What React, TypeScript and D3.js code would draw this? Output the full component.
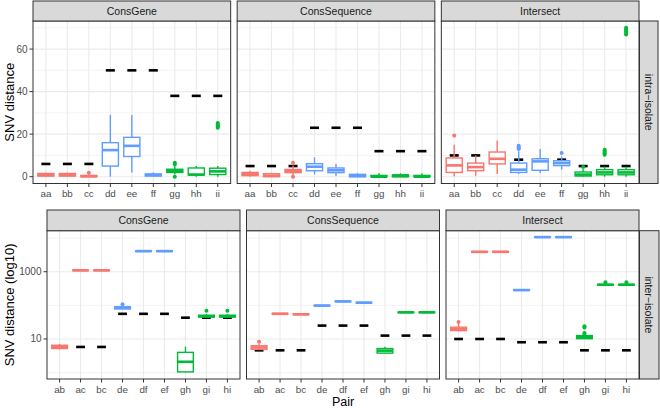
import React from 'react';
import * as d3 from 'd3';

// ---------- data ----------
const methods = ['ConsGene', 'ConsSequence', 'Intersect'];
const intraPairs = ['aa', 'bb', 'cc', 'dd', 'ee', 'ff', 'gg', 'hh', 'ii'];
const interPairs = ['ab', 'ac', 'bc', 'de', 'df', 'ef', 'gh', 'gi', 'hi'];
const pairGroup = [0, 0, 0, 1, 1, 1, 2, 2, 2];
const groupColors = ['#F8766D', '#619CFF', '#00BA38'];

// box stats: [lower whisker, q1, median, q3, upper whisker]
const intraGeneBoxes = [
  [0, 0.3, 0.8, 1.5, 2], [0, 0.3, 0.8, 1.5, 2], [0, 0, 0.2, 0.6, 1.2],
  [0, 5, 12.5, 16, 29], [2, 9.5, 14.5, 18.5, 29], [0, 0.3, 0.8, 1.3, 2],
  [1, 2, 2.8, 3.5, 5], [0, 0.8, 1, 4.1, 5], [0, 1, 2.5, 4, 5],
];
const intraGeneOutliers = [[], [], [1.8], [], [], [], [0, 5.8, 6.5], [], [23, 23.6, 24.2, 24.8, 25.3]];
const intraGeneRefs = [6, 6, 6, 50, 50, 50, 38, 38, 38];

const intraSeqBoxes = [
  [0, 0.5, 1.2, 2, 2.8], [0, 0, 0.5, 1.4, 1.9], [0.5, 1.9, 2.7, 3.4, 5.3],
  [1.1, 2.8, 4.7, 6.1, 9.1], [0.3, 1.9, 3, 4.1, 6], [0, 0, 0.3, 1.1, 1.6],
  [0, 0, 0, 0.6, 1.6], [0, 0, 0.3, 0.9, 1.6], [0, 0, 0, 0.6, 1.6],
];
const intraSeqOutliers = [[], [], [0, 6.5], [], [], [], [], [], []];
const intraSeqRefs = [5, 5, 5, 23, 23, 23, 12, 12, 12];

const intraIntBoxes = [
  [0.2, 2, 5.3, 8.8, 15], [0.5, 2.8, 4.5, 6.4, 10], [1.3, 6, 8.4, 11.6, 17],
  [1.3, 2, 3.3, 6.4, 11.9], [1.7, 3, 7.2, 8.4, 13], [3.3, 5.2, 6.4, 7.5, 9.5],
  [0, 0.3, 1, 2.2, 3.5], [0, 0.9, 2, 3.3, 4.8], [0, 0.9, 2, 3.3, 4.8],
];
const intraIntOutliers = [[19.4], [], [], [13, 13.5, 14, 14.5], [], [11.1], [4.5], [10.3, 11, 11.6, 12.2, 12.7], [66.8, 67.6, 68.4, 69.2, 70]];
const intraIntRefs = [10, 10, 10, 8, 8, 8, 5, 5, 5];

const interGeneBoxes = [
  [4.9, 5.2, 5.8, 6.5, 7.2], [1050, 1080, 1100, 1120, 1150], [1050, 1080, 1100, 1120, 1150],
  [75, 78, 85, 91, 100], [3900, 4000, 4100, 4200, 4300], [3900, 4000, 4100, 4200, 4300],
  [1.02, 1.05, 2.1, 4.0, 5.9], [44, 45, 47, 51, 55], [44, 45, 47, 51, 55],
];
const interGeneOutliers = [[], [], [], [107], [], [], [], [69], [69]];
const interGeneRefs = [5.8, 5.8, 5.8, 56, 56, 56, 43, 43, 43];

const interSeqBoxes = [
  [4.8, 4.9, 5.6, 6.3, 7.2], [54, 55, 56, 58, 59], [52, 53, 54, 56, 57],
  [94, 96, 98, 101, 103], [126, 128, 131, 134, 137], [116, 118, 120, 123, 125],
  [3.7, 3.8, 4.5, 5.2, 5.9], [60, 61, 62, 63, 65], [60, 61, 62, 63, 65],
];
const interSeqOutliers = [[8.3], [], [], [], [], [], [], [], []];
const interSeqRefs = [4.6, 4.6, 4.6, 25, 25, 25, 12.6, 12.6, 12.6];

const interIntBoxes = [
  [16.5, 17.8, 20, 22.4, 28], [3700, 3800, 3900, 4000, 4100], [3700, 3800, 3900, 4000, 4100],
  [270, 278, 285, 292, 300], [10200, 10500, 10700, 10900, 11200], [10200, 10500, 10700, 10900, 11200],
  [10, 10.2, 11.3, 12.6, 13.5], [390, 400, 410, 420, 430], [390, 400, 410, 420, 430],
];
const interIntOutliers = [[32], [], [], [], [], [], [14, 15, 22, 24], [490], [490]];
const interIntRefs = [10, 10, 10, 8, 8, 8, 4.6, 4.6, 4.6];

const intraMajor = [0, 20, 40, 60];
const intraMinor = [10, 30, 50, 70];
const interMajor = [10, 1000];
const interMinor = [1, 100, 10000];

// ---------- styling ----------
const FONT = '"Liberation Sans", Arial, Helvetica, sans-serif';
const GRID = '#EBEBEB';
const DARK = '#333333';

type RowProps = {
  left: number; right: number; gap: number; stripTop: number; top: number; bottom: number;
  rsRight: number; pairs: string[]; boxes: number[][][]; outliers: number[][][]; refs: number[][];
  y: (v: number) => number; majors: number[]; minors: number[]; yTitle: string; rowLabel: string;
  xTitle?: string;
};

function FacetRow(p: RowProps) {
  const pw = (p.right - p.left - 2 * p.gap) / 3;
  const midY = (p.top + p.bottom) / 2;
  return (
    <g>
      {methods.map((m, i) => {
        const x0 = p.left + i * (pw + p.gap);
        const x = d3.scalePoint<string>().domain(p.pairs).range([x0, x0 + pw]).padding(0.6);
        const step = x.step();
        const bw = step * 0.75;
        const dw = step * 0.42;
        return (
          <g key={m}>
            <rect x={x0} y={p.top} width={pw} height={p.bottom - p.top} fill="#fff" />
            {p.minors.map(v => (
              <line key={'mi' + v} x1={x0} x2={x0 + pw} y1={p.y(v)} y2={p.y(v)} stroke={GRID} strokeWidth={0.6} />
            ))}
            {p.majors.map(v => (
              <line key={'ma' + v} x1={x0} x2={x0 + pw} y1={p.y(v)} y2={p.y(v)} stroke={GRID} strokeWidth={1.1} />
            ))}
            {p.pairs.map(c => (
              <line key={'vx' + c} x1={x(c)} x2={x(c)} y1={p.top} y2={p.bottom} stroke={GRID} strokeWidth={1.1} />
            ))}
            {p.refs[i].map((r, k) => {
              const cx = x(p.pairs[k])!;
              return <line key={'rf' + k} x1={cx - dw / 2} x2={cx + dw / 2} y1={p.y(r)} y2={p.y(r)} stroke="#000" strokeWidth={2.6} />;
            })}
            {p.boxes[i].map((b, k) => {
              const cx = x(p.pairs[k])!;
              const col = groupColors[pairGroup[k]];
              const [lo, q1, med, q3, hi] = b;
              return (
                <g key={'bx' + k}>
                  <line x1={cx} x2={cx} y1={p.y(lo)} y2={p.y(q1)} stroke={col} strokeWidth={1.4} />
                  <line x1={cx} x2={cx} y1={p.y(q3)} y2={p.y(hi)} stroke={col} strokeWidth={1.4} />
                  <rect x={cx - bw / 2} y={p.y(q3)} width={bw} height={Math.max(0, p.y(q1) - p.y(q3))}
                    fill="#fff" stroke={col} strokeWidth={1.4} />
                  <line x1={cx - bw / 2} x2={cx + bw / 2} y1={p.y(med)} y2={p.y(med)} stroke={col} strokeWidth={2.6} />
                  {p.outliers[i][k].map((o, j) => (
                    <circle key={j} cx={cx} cy={p.y(o)} r={2} fill={col} />
                  ))}
                </g>
              );
            })}
            <rect x={x0} y={p.top} width={pw} height={p.bottom - p.top} fill="none" stroke={DARK} strokeWidth={1} />
            <rect x={x0} y={p.stripTop} width={pw} height={p.top - p.stripTop} fill="#D9D9D9" stroke={DARK} strokeWidth={1} />
            <text x={x0 + pw / 2} y={(p.stripTop + p.top) / 2} textAnchor="middle" dominantBaseline="central"
              fontSize={10.5} fill="#1A1A1A" fontFamily={FONT}>{m}</text>
            {p.pairs.map(c => (
              <g key={'xt' + c}>
                <line x1={x(c)} x2={x(c)} y1={p.bottom} y2={p.bottom + 3.5} stroke={DARK} strokeWidth={1} />
                <text x={x(c)} y={p.bottom + 10} textAnchor="middle" dominantBaseline="central"
                  fontSize={9.8} fill="#4D4D4D" fontFamily={FONT}>{c}</text>
              </g>
            ))}
          </g>
        );
      })}
      {p.majors.map(v => (
        <g key={'yt' + v}>
          <line x1={p.left - 3.5} x2={p.left} y1={p.y(v)} y2={p.y(v)} stroke={DARK} strokeWidth={1} />
          <text x={p.left - 5.5} y={p.y(v)} textAnchor="end" dominantBaseline="central"
            fontSize={10} fill="#4D4D4D" fontFamily={FONT}>{String(v)}</text>
        </g>
      ))}
      <rect x={p.right + 0.5} y={p.top} width={p.rsRight - p.right - 0.5} height={p.bottom - p.top}
        fill="#D9D9D9" stroke={DARK} strokeWidth={1} />
      <text transform={`translate(${(p.right + p.rsRight) / 2 + 0.3},${midY}) rotate(90)`} textAnchor="middle"
        dominantBaseline="central" fontSize={10.5} fill="#1A1A1A" fontFamily={FONT}>{p.rowLabel}</text>
      <text transform={`translate(9,${midY}) rotate(-90)`} textAnchor="middle" dominantBaseline="central"
        fontSize={13} fill="#000" fontFamily={FONT}>{p.yTitle}</text>
      {p.xTitle ? (
        <text x={(p.left + p.right) / 2} y={p.bottom + 22.5} textAnchor="middle" dominantBaseline="central"
          fontSize={12.5} fill="#000" fontFamily={FONT}>{p.xTitle}</text>
      ) : null}
    </g>
  );
}

export default function App() {
  const topTop = 21, topBottom = 183.5;
  const yTop = d3.scaleLinear().domain([-3.2, 73.2]).range([topBottom, topTop]);
  const botTop = 230.7, botBottom = 379;
  const yBot = d3.scaleLog().domain([Math.pow(10, -0.19), Math.pow(10, 4.22)]).range([botBottom, botTop]);
  return (
    <svg width={660} height={408} style={{ position: 'absolute', left: 0, top: 0, background: '#fff' }}>
      <rect x={0} y={0} width={660} height={408} fill="#fff" />
      <FacetRow left={33} right={639} gap={6.5} stripTop={1} top={topTop} bottom={topBottom} rsRight={658}
        pairs={intraPairs}
        boxes={[intraGeneBoxes, intraSeqBoxes, intraIntBoxes]}
        outliers={[intraGeneOutliers, intraSeqOutliers, intraIntOutliers]}
        refs={[intraGeneRefs, intraSeqRefs, intraIntRefs]}
        y={yTop} majors={intraMajor} minors={intraMinor} yTitle="SNV distance" rowLabel="intra−isolate" />
      <FacetRow left={47} right={639} gap={6.5} stripTop={210} top={botTop} bottom={botBottom} rsRight={659}
        pairs={interPairs}
        boxes={[interGeneBoxes, interSeqBoxes, interIntBoxes]}
        outliers={[interGeneOutliers, interSeqOutliers, interIntOutliers]}
        refs={[interGeneRefs, interSeqRefs, interIntRefs]}
        y={yBot} majors={interMajor} minors={interMinor} yTitle="SNV distance (log10)" rowLabel="inter−isolate"
        xTitle="Pair" />
    </svg>
  );
}
